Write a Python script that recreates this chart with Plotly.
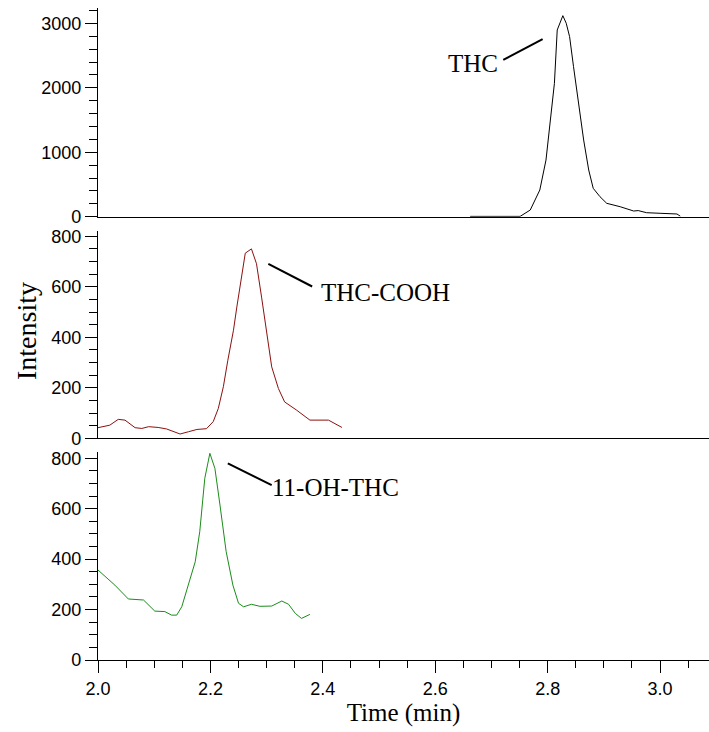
import plotly.graph_objects as go

# ---------------- data ----------------
thc_time = [2.662, 2.751, 2.769, 2.786, 2.797, 2.804, 2.812, 2.817, 2.823, 2.827, 2.833,
            2.839, 2.846, 2.855, 2.864, 2.873, 2.881, 2.893, 2.905, 2.929, 2.953, 2.961,
            2.976, 3.000, 3.030, 3.036]
thc_int = [5, 5, 104, 414, 880, 1398, 2071, 2899, 3054, 3121, 3003,
           2795, 2329, 1761, 1191, 725, 441, 311, 208, 155, 88, 95,
           62, 53, 42, 8]

cooh_time = [2.000, 2.021, 2.036, 2.048, 2.066, 2.078, 2.090, 2.107, 2.122, 2.146, 2.161,
             2.176, 2.193, 2.205, 2.214, 2.223, 2.231, 2.241, 2.247, 2.254, 2.262, 2.273,
             2.282, 2.291, 2.300, 2.309, 2.321, 2.332, 2.353, 2.377, 2.410, 2.422, 2.434]
cooh_int = [42, 52, 75, 72, 42, 39, 46, 43, 37, 17, 26,
            35, 38, 66, 118, 204, 309, 428, 520, 625, 733, 750,
            691, 559, 415, 283, 197, 144, 112, 72, 72, 59, 43]

oh_time = [2.000, 2.030, 2.054, 2.081, 2.101, 2.119, 2.131, 2.140, 2.149, 2.161, 2.173,
           2.181, 2.190, 2.199, 2.208, 2.217, 2.228, 2.240, 2.250, 2.259, 2.273, 2.288,
           2.309, 2.327, 2.339, 2.351, 2.362, 2.377]
oh_int = [357, 297, 242, 238, 194, 192, 178, 178, 211, 297, 390,
          509, 721, 820, 760, 615, 430, 297, 225, 211, 221, 213,
          214, 234, 221, 185, 165, 181]

x_ticks = [2.0, 2.2, 2.4, 2.6, 2.8, 3.0]
x_tick_labels = ["2.0", "2.2", "2.4", "2.6", "2.8", "3.0"]
top_ticks = [0, 1000, 2000, 3000]
low_ticks = [0, 200, 400, 600, 800]

labels = ["THC", "THC-COOH", "11-OH-THC"]
# label text positions and leader lines (time, intensity)
label_pos = [(2.667, 2386), (2.512, 578), (2.422, 684)]
leader = [((2.721, 2433), (2.791, 2755)),
          ((2.381, 601), (2.303, 691)),
          ((2.309, 694), (2.231, 780))]

# ---------------- figure ----------------
W, H = 709, 732
ML, MR, MT, MB = 98, 0, 8, 72
plot_h = H - MT - MB

tick_font = dict(family="Liberation Sans, Arial, sans-serif", size=18, color="black")
serif = "Liberation Serif, Times New Roman, serif"

fig = go.Figure()
fig.add_trace(go.Scatter(x=thc_time, y=thc_int, mode="lines",
                         line=dict(color="black", width=1), xaxis="x", yaxis="y",
                         showlegend=False))
fig.add_trace(go.Scatter(x=cooh_time, y=cooh_int, mode="lines",
                         line=dict(color="#8b1010", width=1), xaxis="x2", yaxis="y2",
                         showlegend=False))
fig.add_trace(go.Scatter(x=oh_time, y=oh_int, mode="lines",
                         line=dict(color="#1a8c1a", width=1), xaxis="x3", yaxis="y3",
                         showlegend=False))

xr = [2.0, 3.087]
def xax(anchor, show_labels):
    d = dict(range=xr, anchor=anchor, showgrid=False, zeroline=False,
             showline=True, linecolor="black", linewidth=1.3,
             tickvals=x_ticks, ticktext=x_tick_labels, tickfont=tick_font)
    if show_labels:
        d.update(ticks="outside", ticklen=12, tickwidth=1, tickcolor="black",
                 showticklabels=True,
                 minor=dict(ticks="outside", ticklen=7, dtick=0.05, tick0=2.0,
                            tickcolor="black", tickwidth=1, showgrid=False),
                 title=dict(text="Time (min)", font=dict(family=serif, size=25, color="black"),
                            standoff=4))
    else:
        d.update(ticks="", showticklabels=False)
    return d

def yax(anchor, dom, rng, vals, minor_dtick):
    return dict(domain=dom, range=rng, anchor=anchor, showgrid=False, zeroline=False,
                showline=True, linecolor="black", linewidth=1.3,
                ticks="outside", ticklen=12, tickwidth=1, tickcolor="black",
                tickvals=vals, tickfont=tick_font,
                minor=dict(ticks="outside", ticklen=8, dtick=minor_dtick, tick0=0,
                           tickcolor="black", tickwidth=1, showgrid=False))

def frac(px_from_top):
    return (H - MB - px_from_top) / plot_h

fig.update_layout(
    width=W, height=H,
    margin=dict(l=ML, r=MR, t=MT, b=MB),
    paper_bgcolor="white", plot_bgcolor="white",
    xaxis=xax("y", False),
    xaxis2=xax("y2", False),
    xaxis3=xax("y3", True),
    yaxis=yax("x", [frac(216.7), 1.0], [0, 3240], top_ticks, 200),
    yaxis2=yax("x2", [frac(438.3), frac(230.7)], [0, 822], low_ticks, 50),
    yaxis3=yax("x3", [0.0, frac(452.3)], [0, 824], low_ticks, 50),
)

axes = [("x", "y"), ("x2", "y2"), ("x3", "y3")]
for (xa, ya), lab, pos, ln in zip(axes, labels, label_pos, leader):
    fig.add_annotation(x=pos[0], y=pos[1], xref=xa, yref=ya, text=lab, showarrow=False,
                       xanchor="center", yanchor="middle",
                       font=dict(family=serif, size=25, color="black"))
    fig.add_shape(type="line", xref=xa, yref=ya, x0=ln[0][0], y0=ln[0][1],
                  x1=ln[1][0], y1=ln[1][1], line=dict(color="black", width=2))

fig.add_annotation(text="Intensity", xref="paper", yref="paper",
                   x=(26 - ML) / (W - ML - MR), y=frac(331), textangle=-90,
                   showarrow=False, xanchor="center", yanchor="middle",
                   font=dict(family=serif, size=28, color="black"))

fig.write_html("out.html")
